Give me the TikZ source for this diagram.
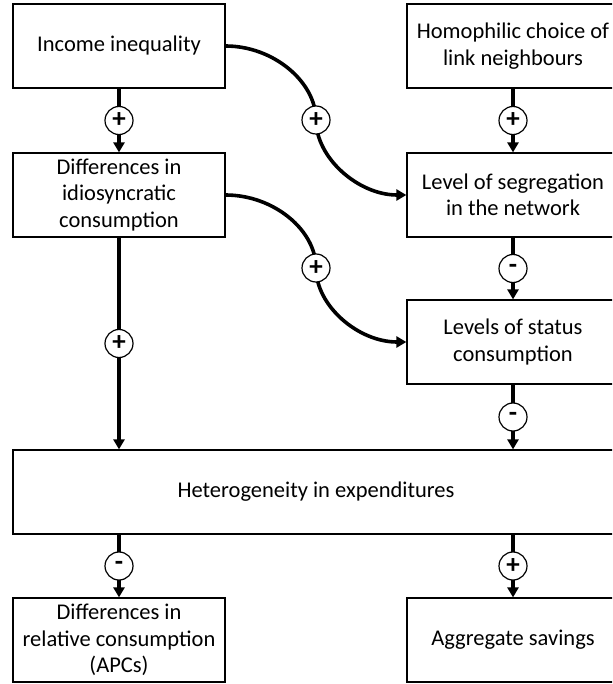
\documentclass[tikz,border=0pt]{standalone}
\usepackage{fontspec}
\setmainfont{Carlito}
\usetikzlibrary{arrows.meta}
\tikzset{
  box/.style={draw, line width=1.2pt, minimum width=212pt, minimum height=84pt,
    inner sep=0pt, align=center, font=\fontsize{22.5}{26.5}\selectfont},
  conn/.style={line width=3.6pt, -{Triangle[width=11pt,length=10pt]}},
  sign/.style={circle, draw, fill=white, line width=1.2pt, minimum size=28pt,
    inner sep=0pt, font=\fontsize{27}{27}\selectfont\bfseries},
}
\begin{document}
\begin{tikzpicture}[x=1pt,y=-1pt]
\clip (0,0) rectangle (612,684);
\fill[white] (0,0) rectangle (612,684);
% boxes
\node[box] (inc) at (119,46)  {Income inequality};
\node[box] (dif) at (119,195) {Differences in\\idiosyncratic\\consumption};
\node[box] (hom) at (513,46)  {Homophilic choice of\\link neighbours};
\node[box] (seg) at (513,195) {Level of segregation\\in the network};
\node[box] (sta) at (513,342) {Levels of status\\consumption};
\node[box, minimum width=606pt] (het) at (316,492) {Heterogeneity in expenditures};
\node[box] (rel) at (119,640) {Differences in\\relative consumption\\(APCs)};
\node[box] (sav) at (513,640) {Aggregate savings};
% curve midpoints
\coordinate (m1) at (316,120);
\coordinate (m2) at (316,268);
% straight connectors
\draw[conn] (inc.south) -- (dif.north) node[midway,sign] {+};
\draw[conn] (hom.south) -- (seg.north) node[midway,sign] {+};
\draw[conn] (seg.south) -- (sta.north) node[midway,sign] {-};
\draw[conn] (dif.south) -- (dif.south |- het.north) node[midway,sign] {+};
\draw[conn] (sta.south) -- (sta.south |- het.north) node[midway,sign] {-};
\draw[conn] (rel.north |- het.south) -- (rel.north) node[midway,sign] {-};
\draw[conn] (sav.north |- het.south) -- (sav.north) node[midway,sign] {+};
% curved connectors
\draw[conn] (inc.east) .. controls +(48,0) and +(0,-38) .. (m1)
  .. controls +(0,38) and +(-48,0) .. (seg.west);
\node[sign] at (m1) {+};
\draw[conn] (dif.east) .. controls +(48,0) and +(0,-38) .. (m2)
  .. controls +(0,38) and +(-48,0) .. (sta.west);
\node[sign] at (m2) {+};
\end{tikzpicture}
\end{document}
